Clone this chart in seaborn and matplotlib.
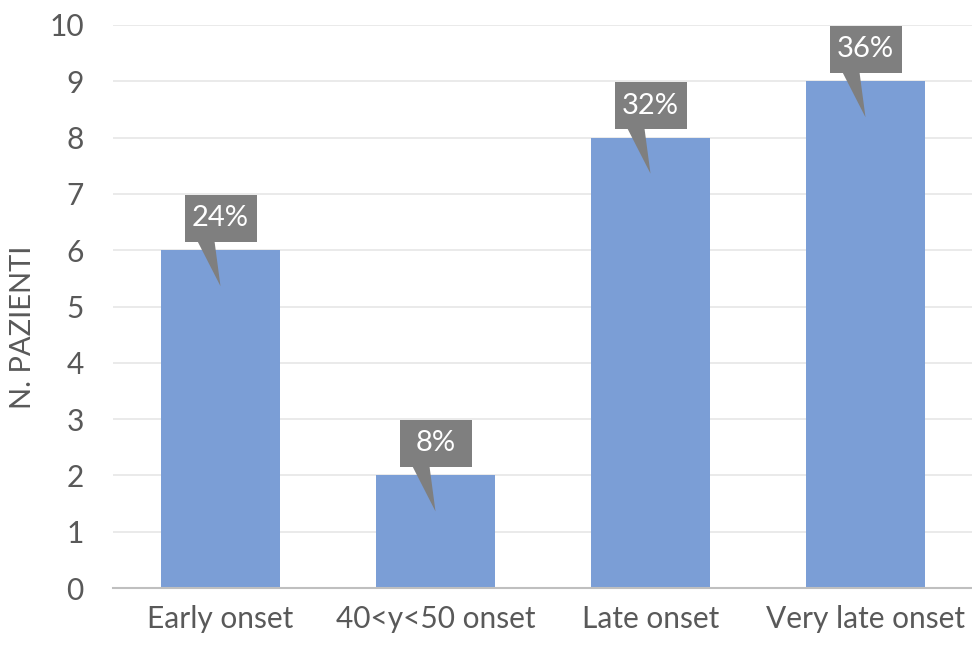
import matplotlib
matplotlib.use("Agg")
import matplotlib.pyplot as plt
import seaborn as sns
import pandas as pd
from matplotlib.patches import Rectangle, Polygon

categories = ["Early onset", "40<y<50 onset", "Late onset", "Very late onset"]
patients = [6, 2, 8, 9]
percent_labels = ["24%", "8%", "32%", "36%"]

sns.set_theme(style="white")
plt.rcParams["font.family"] = ["Lato", "DejaVu Sans"]

df = pd.DataFrame({"onset": categories, "n": patients})

fig = plt.figure(figsize=(9.72, 6.48), dpi=100)
ax = fig.add_axes([113 / 972, 1 - 588 / 648, 860 / 972, 563 / 648])

sns.barplot(data=df, x="onset", y="n", color="#7B9ED6", saturation=1,
            width=0.55, ax=ax, zorder=2)
for p in ax.patches:
    p.set_edgecolor("none")

ax.set_xlim(-0.5, 3.5)
ax.set_ylim(0, 10)
ax.set_yticks(range(0, 11))
ax.yaxis.grid(True, color="#E8E8E8", linewidth=1.3, zorder=0)
ax.set_axisbelow(True)

for side in ["top", "right", "left"]:
    ax.spines[side].set_visible(False)
ax.spines["bottom"].set_color("#BFBFBF")
ax.spines["bottom"].set_linewidth(1.5)
ax.spines["bottom"].set_zorder(3)

ax.tick_params(axis="both", length=0, labelsize=21.5, colors="#595959")
ax.tick_params(axis="x", pad=12)
ax.tick_params(axis="y", pad=21)
ax.set_xlabel("")
ax.set_ylabel("")
fig.text(23 / 972, 1 - 327 / 648, "N. PAZIENTI", rotation=90, ha="center",
         va="center", fontsize=21, color="#595959")

# callout boxes with a pointer into each bar
px_x = 1 / 215.0   # data units per pixel horizontally
px_y = 1 / 56.3    # data units per pixel vertically
box_w, box_h = 72 * px_x, 47 * px_y
gap = 8.5 * px_y
for i, (v, lab) in enumerate(zip(patients, percent_labels)):
    bottom = v + gap
    ax.add_patch(Rectangle((i - box_w / 2, bottom), box_w, box_h,
                           facecolor="#7F7F7F", edgecolor="none", zorder=4))
    ax.add_patch(Polygon([(i - 23 * px_x, bottom + 0.5 * px_y),
                          (i - 6 * px_x, bottom + 0.5 * px_y),
                          (i, v - 36 * px_y)],
                         closed=True, facecolor="#7F7F7F", edgecolor="none", zorder=4))
    ax.text(i, bottom + box_h / 2, lab, ha="center", va="center",
            fontsize=21, color="white", zorder=5)

fig.savefig("out.png", dpi=100)
